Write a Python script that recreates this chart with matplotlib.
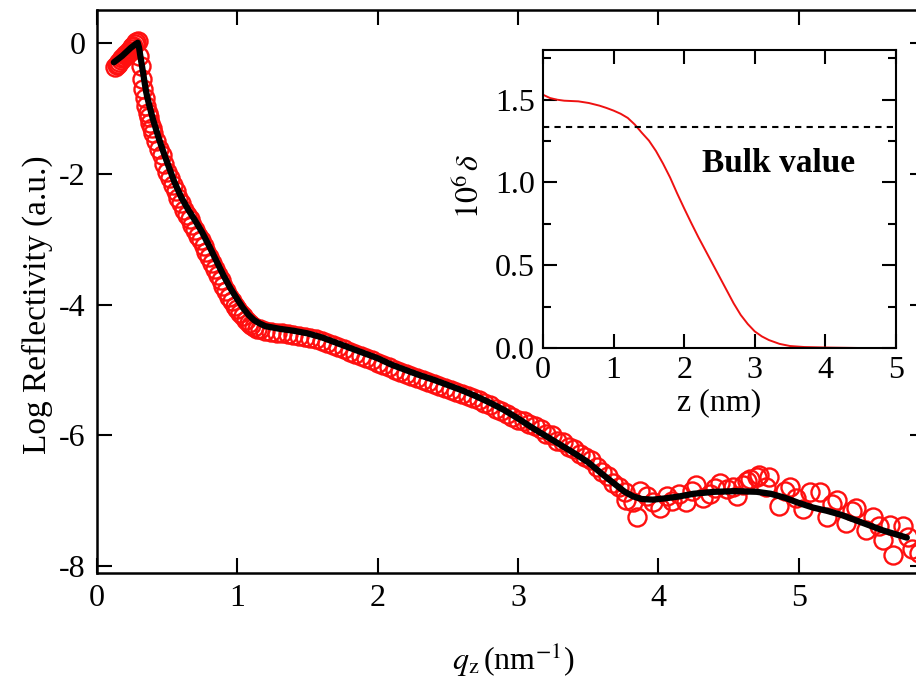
import numpy as np
import matplotlib
matplotlib.use("Agg")
import matplotlib.pyplot as plt
from matplotlib.ticker import MultipleLocator

plt.rcParams['font.family'] = ['Liberation Serif', 'DejaVu Serif']
plt.rcParams['mathtext.fontset'] = 'stix'
plt.rcParams['axes.unicode_minus'] = False

q_data = [0.13, 0.14, 0.15, 0.16, 0.17, 0.18, 0.19, 0.20, 0.21, 0.22, 0.23, 0.24, 0.25, 0.26, 0.27, 0.28, 0.29,
          0.30, 0.31, 0.32, 0.33, 0.34, 0.35, 0.36, 0.37, 0.38, 0.39, 0.40, 0.42, 0.44, 0.46, 0.48, 0.50,
          0.52, 0.54, 0.56, 0.58, 0.60, 0.62, 0.64, 0.66, 0.68, 0.70, 0.72, 0.74, 0.76, 0.78, 0.80, 0.82,
          0.84, 0.86, 0.88, 0.90, 0.92, 0.94, 0.96, 0.98, 1.00, 1.02, 1.04, 1.06, 1.08, 1.10, 1.12, 1.14,
          1.16, 1.20, 1.24, 1.28, 1.32, 1.36, 1.40, 1.44, 1.48, 1.52, 1.56, 1.60, 1.64, 1.68, 1.72, 1.76,
          1.80, 1.84, 1.88, 1.92, 1.96, 2.00, 2.04, 2.08, 2.12, 2.16, 2.20, 2.24, 2.28, 2.32, 2.36, 2.40,
          2.44, 2.48, 2.52, 2.56, 2.60, 2.64, 2.68, 2.72, 2.76, 2.80, 2.84, 2.88, 2.92, 2.96, 3.00,
          3.04, 3.08, 3.12, 3.16, 3.20, 3.24, 3.28, 3.32, 3.36, 3.40, 3.44, 3.48, 3.52, 3.56, 3.60, 3.64,
          3.68, 3.72, 3.76, 3.77, 3.82, 3.85, 3.87, 3.92, 3.96, 4.01, 4.06, 4.10, 4.15, 4.20, 4.24, 4.27,
          4.32, 4.37, 4.40, 4.44, 4.49, 4.53, 4.56, 4.60, 4.63, 4.65, 4.70, 4.72, 4.77, 4.79, 4.86, 4.90,
          4.94, 4.98, 5.03, 5.08, 5.15, 5.20, 5.24, 5.27, 5.34, 5.38, 5.41, 5.48, 5.53, 5.57, 5.60, 5.65,
          5.67, 5.74, 5.78, 5.81, 5.86]
logr_data = [-0.37, -0.34, -0.32, -0.29, -0.27, -0.24, -0.22, -0.19, -0.17, -0.15, -0.12, -0.10, -0.07, -0.05, -0.02, 0.01, 0.03,
             -0.20, -0.36, -0.55, -0.70, -0.85, -0.97, -1.07, -1.14, -1.22, -1.30, -1.38, -1.50, -1.62, -1.72, -1.86, -1.97,
             -2.06, -2.18, -2.26, -2.37, -2.45, -2.56, -2.63, -2.70, -2.79, -2.86, -2.95, -3.02, -3.10, -3.20, -3.27, -3.37,
             -3.46, -3.55, -3.63, -3.72, -3.80, -3.88, -3.95, -4.02, -4.07, -4.13, -4.18, -4.24, -4.28, -4.31, -4.35, -4.37,
             -4.38, -4.40, -4.42, -4.43, -4.44, -4.45, -4.46, -4.48, -4.49, -4.51, -4.53, -4.55, -4.58, -4.62, -4.65, -4.68,
             -4.72, -4.75, -4.79, -4.82, -4.85, -4.89, -4.93, -4.96, -5.00, -5.03, -5.06, -5.09, -5.12, -5.15, -5.18, -5.21,
             -5.24, -5.27, -5.30, -5.33, -5.36, -5.40, -5.43, -5.46, -5.50, -5.54, -5.59, -5.63, -5.67, -5.71, -5.76,
             -5.78, -5.82, -5.86, -5.90, -5.97, -6.00, -6.08, -6.10, -6.18, -6.20, -6.28, -6.33, -6.38, -6.48, -6.55, -6.62,
             -6.72, -6.78, -6.86, -6.98, -7.02, -7.24, -6.85, -6.93, -7.02, -7.10, -6.93, -7.00, -6.90, -7.02, -6.85, -6.75,
             -6.95, -6.90, -6.80, -6.72, -6.82, -6.78, -6.93, -6.76, -6.70, -6.67, -6.64, -6.60, -6.78, -6.63, -7.08, -6.85,
             -6.78, -6.95, -7.13, -6.87, -6.87, -7.24, -7.05, -6.98, -7.33, -7.15, -7.10, -7.44, -7.24, -7.38, -7.59, -7.36,
             -7.82, -7.39, -7.55, -7.74, -7.80]

# model fit
q_fit = [0.12, 0.15, 0.18, 0.21, 0.24, 0.27, 0.29, 0.30, 0.31, 0.32, 0.33, 0.34, 0.35, 0.36, 0.38,
         0.40, 0.42, 0.44, 0.47, 0.50, 0.55, 0.60, 0.65, 0.70, 0.75, 0.80, 0.85, 0.90, 0.95, 1.00,
         1.04, 1.08, 1.12, 1.16, 1.20, 1.25, 1.30, 1.40, 1.50, 1.60, 1.70, 1.80, 1.90, 2.00, 2.10,
         2.20, 2.30, 2.40, 2.50, 2.60, 2.70, 2.80, 2.90, 3.00, 3.10, 3.20, 3.30, 3.40, 3.50, 3.60,
         3.70, 3.76, 3.82, 3.88, 3.96, 4.05, 4.15, 4.25, 4.40, 4.55, 4.70, 4.80, 4.90, 5.00, 5.10,
         5.20, 5.30, 5.45, 5.60, 5.77]
logr_fit = [-0.30, -0.25, -0.20, -0.14, -0.08, -0.03, 0.00, -0.08, -0.22, -0.35, -0.48, -0.62, -0.75, -0.85, -1.02,
            -1.18, -1.32, -1.46, -1.65, -1.83, -2.12, -2.36, -2.55, -2.72, -2.90, -3.11, -3.33, -3.55, -3.75, -3.92,
            -4.05, -4.16, -4.24, -4.29, -4.33, -4.35, -4.37, -4.40, -4.44, -4.50, -4.58, -4.66, -4.74, -4.82, -4.92,
            -5.00, -5.08, -5.15, -5.23, -5.31, -5.40, -5.50, -5.61, -5.74, -5.88, -6.01, -6.14, -6.27, -6.41, -6.59,
            -6.76, -6.86, -6.93, -6.97, -6.98, -6.96, -6.93, -6.89, -6.86, -6.85, -6.86, -6.89, -6.95, -7.03, -7.10,
            -7.15, -7.21, -7.33, -7.45, -7.56]

# inset: density profile
z_prof = [0.0, 0.1, 0.2, 0.3, 0.5, 0.65, 0.8, 0.9, 1.0, 1.1, 1.2, 1.3, 1.4, 1.5, 1.6, 1.7, 1.8, 1.9,
          2.0, 2.1, 2.2, 2.3, 2.4, 2.5, 2.6, 2.7, 2.8, 2.9, 3.0, 3.1, 3.2, 3.35, 3.5, 3.7, 4.0, 4.5, 5.0]
delta_prof = [1.53, 1.51, 1.50, 1.494, 1.49, 1.48, 1.464, 1.45, 1.434, 1.415, 1.39, 1.35, 1.30, 1.253,
              1.19, 1.114, 1.03, 0.934, 0.843, 0.755, 0.67, 0.59, 0.51, 0.43, 0.35, 0.27, 0.20, 0.145,
              0.10, 0.07, 0.048, 0.025, 0.012, 0.006, 0.003, 0.0, 0.0]
bulk_value = 1.337

fig = plt.figure(figsize=(9.16, 6.78), dpi=100)
ax = fig.add_axes([0.1059, 0.1549, 0.904, 0.8304])
ax.plot(q_data, logr_data, 'o', mfc='none', mec='#ff1010', ms=13, mew=1.7, zorder=2)
ax.plot(q_fit, logr_fit, '-', color='black', lw=4.5, zorder=3,
        solid_joinstyle='round', solid_capstyle='round')
ax.set_xlim(0, 5.9)
ax.set_ylim(-8.1, 0.5)
ax.set_xticks([0, 1, 2, 3, 4, 5])
ax.set_yticks([-8, -6, -4, -2, 0])
ax.tick_params(direction='in', length=11, width=1.5, top=True, right=True,
               labelsize=23, pad=8)
for s in ax.spines.values():
    s.set_linewidth(1.8)
fig.text(0.041, 0.55, 'Log Reflectivity (a.u.)', rotation=90, fontsize=24,
         ha='center', va='center')
fig.text(0.56, 0.027, r'$q_\mathrm{z}\,$(nm$^{\mathrm{-1}}$)', fontsize=23,
         ha='center', va='center')

axin = fig.add_axes([0.5928, 0.4867, 0.3854, 0.4395])
axin.plot(z_prof, delta_prof, color='#ee1111', lw=1.4,
          solid_joinstyle='round')
axin.axhline(bulk_value, color='black', lw=1.5, ls=(0, (3, 2.5)))
axin.set_xlim(0, 5)
axin.set_ylim(0, 1.8)
axin.set_xticks([0, 1, 2, 3, 4, 5])
axin.set_yticks([0.0, 0.5, 1.0, 1.5])
axin.yaxis.set_minor_locator(MultipleLocator(0.25))
axin.yaxis.set_major_formatter(matplotlib.ticker.FormatStrFormatter('%.1f'))
axin.tick_params(direction='in', length=10, width=1.5, top=True, right=True,
                 labelsize=23, pad=6)
axin.tick_params(which='minor', direction='in', length=6, width=1.5, right=True)
for s in axin.spines.values():
    s.set_linewidth(1.5)
axin.text(3.34, 1.115, 'Bulk value', fontsize=24, fontweight='bold',
          ha='center', va='center')
axin.set_xlabel('z (nm)', fontsize=23, labelpad=2)
fig.text(0.513, 0.725, r'$10^6\,\delta$', rotation=90, fontsize=23,
         ha='center', va='center')

fig.savefig('out.png', dpi=100)
